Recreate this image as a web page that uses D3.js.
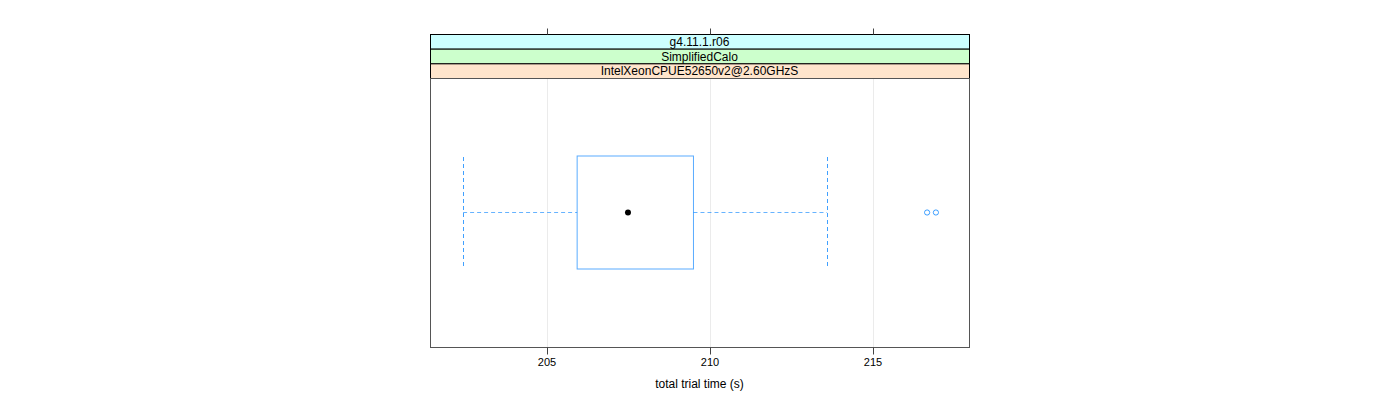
<!DOCTYPE html>
<html><head><meta charset="utf-8">
<script src="https://cdn.jsdelivr.net/npm/d3@7"></script>
<style>body{margin:0;background:#fff;} text{font-family:"Liberation Sans",Arial,sans-serif;}</style>
</head><body><svg id="c" width="1400" height="400"></svg>
<script>
const strips = ["g4.11.1.r06", "SimplifiedCalo", "IntelXeonCPUE52650v2@2.60GHzS"];
const stripColors = ["#ccffff", "#ccffcc", "#ffe5cc"];
const stats = {lowWhisker: 202.42, q1: 205.92, median: 207.48, q3: 209.49, highWhisker: 213.59};
const outliers = [216.66, 216.93];
const ticks = [205, 210, 215];
const xLabel = "total trial time (s)";

const svg = d3.select("#c");
const L = 430, R = 969, PT = 78, PB = 347, ST = 34;
const allVals = [stats.lowWhisker, stats.highWhisker, ...outliers];
const lo = d3.min(allVals), hi = d3.max(allVals), pad = 0.07*(hi-lo);
const x = d3.scaleLinear().domain([lo-pad, hi+pad]).range([L, R]);
const yc = PT + (PB-PT)/2;
const bh = 113;

// grid
svg.append("g").selectAll("line").data(ticks).join("line")
  .attr("x1", d=>Math.round(x(d))+0.5).attr("x2", d=>Math.round(x(d))+0.5).attr("y1", PT).attr("y2", PB)
  .attr("stroke", "#ebebeb").attr("stroke-width", 1);

// strips
const sh = (PT-ST)/strips.length;
strips.forEach((s,i)=>{
  svg.append("rect").attr("x", L+0.5).attr("y", ST+i*sh+0.5).attr("width", R-L).attr("height", sh)
    .attr("fill", stripColors[i]).attr("stroke", "#000").attr("stroke-width", 1);
  svg.append("text").attr("x", (L+R)/2).attr("y", ST+i*sh+sh/2+4.5).attr("text-anchor","middle")
    .attr("font-size", 12).attr("fill","#000").text(s);
});

// panel border
svg.append("rect").attr("x", L+0.5).attr("y", PT+0.5).attr("width", R-L).attr("height", PB-PT)
  .attr("fill","none").attr("stroke","#555").attr("stroke-width",1);

// axes
const bottomAxis = d3.axisBottom(x).tickValues(ticks).tickSize(7).tickPadding(4).tickFormat(d3.format("d"));
const gb = svg.append("g").attr("transform", `translate(0,${PB+0.5})`).call(bottomAxis);
gb.select(".domain").remove();
gb.selectAll("line").attr("stroke","#444").attr("transform","translate(0.5,0)");
gb.selectAll(".tick").attr("transform", d=>`translate(${Math.round(x(d))},0)`);
gb.selectAll("text").attr("font-size", 11).attr("font-family","Liberation Sans, Arial, sans-serif").attr("fill","#000");
const topAxis = d3.axisTop(x).tickValues(ticks).tickSize(6).tickFormat("");
const gt = svg.append("g").attr("transform", `translate(0,${ST+0.5})`).call(topAxis);
gt.select(".domain").remove();
gt.selectAll(".tick").attr("transform", d=>`translate(${Math.round(x(d))+0.5},0)`);
gt.selectAll("line").attr("stroke","#444");

svg.append("text").attr("x",(L+R)/2).attr("y",388).attr("text-anchor","middle").attr("font-size",12).text(xLabel);

// whiskers
const wc = "#0080ff";
const g = svg.append("g");
g.append("line").attr("x1", x(stats.lowWhisker)).attr("x2", x(stats.q1)).attr("y1", yc).attr("y2", yc)
  .attr("stroke", wc).attr("stroke-opacity",0.6).attr("stroke-dasharray","4,3");
g.append("line").attr("x1", x(stats.q3)).attr("x2", x(stats.highWhisker)).attr("y1", yc).attr("y2", yc)
  .attr("stroke", wc).attr("stroke-opacity",0.6).attr("stroke-dasharray","4,3");
[stats.lowWhisker, stats.highWhisker].forEach(v=>{
  g.append("line").attr("x1", Math.round(x(v))+0.5).attr("x2", Math.round(x(v))+0.5)
    .attr("y1", yc-bh/2+1).attr("y2", yc+bh/2)
    .attr("stroke", wc).attr("stroke-opacity",0.75).attr("stroke-dasharray","4,3");
});
g.append("rect").attr("x", x(stats.q1)).attr("y", yc-bh/2).attr("width", x(stats.q3)-x(stats.q1)).attr("height", bh)
  .attr("fill","none").attr("stroke", wc).attr("stroke-opacity",0.65).attr("stroke-width",1);
g.append("circle").attr("cx", x(stats.median)).attr("cy", yc).attr("r", 3).attr("fill","#000");
g.selectAll("circle.o").data(outliers).join("circle").attr("class","o")
  .attr("cx", d=>x(d)).attr("cy", yc).attr("r", 2.6).attr("fill","none").attr("stroke", wc).attr("stroke-opacity",0.75);
</script></body></html>
